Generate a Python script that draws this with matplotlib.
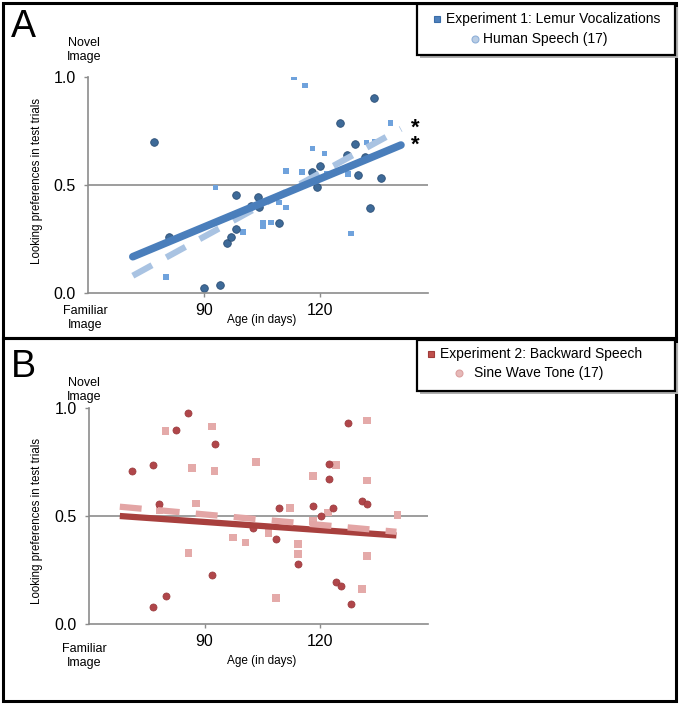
import matplotlib
matplotlib.use("Agg")
import matplotlib.pyplot as plt
from matplotlib.patches import Rectangle
from matplotlib.lines import Line2D

plt.rcParams['font.family'] = ['Liberation Sans', 'DejaVu Sans']

# ---- Panel A: Experiment 1 (lemur vocalizations vs human speech) ----
a_circle_age = [77.1, 80.9, 90.1, 94.1, 96.1, 96.9, 98.2, 98.2, 102.1, 104.1, 104.2, 109.4,
                118.0, 120.0, 119.2, 125.2, 127.1, 129.1, 130.0, 131.8, 133.1, 133.9, 135.9]
a_circle_pref = [0.70, 0.26, 0.025, 0.037, 0.23, 0.26, 0.295, 0.452, 0.403, 0.444, 0.40, 0.323,
                 0.559, 0.588, 0.489, 0.788, 0.637, 0.688, 0.546, 0.63, 0.395, 0.903, 0.531]

a_square_age = [80.2, 93.0, 100.1, 105.3, 105.3, 107.3, 109.4, 111.3, 111.3, 113.3, 115.4, 116.1,
                118.1, 121.2, 121.9, 127.3, 128.0, 132.1, 134.3, 138.3]
a_square_pref = [0.075, 0.489, 0.282, 0.323, 0.31, 0.327, 0.418, 0.395, 0.566, 0.997, 0.559, 0.96,
                 0.668, 0.645, 0.554, 0.55, 0.275, 0.696, 0.70, 0.788]

a_fit_age = [71.6, 141.0]
a_fit_solid = [0.168, 0.685]
a_fit_dashed = [0.08, 0.76]

# ---- Panel B: Experiment 2 (backward speech vs sine wave tone) ----
b_circle_age = [71.1, 76.6, 76.6, 78.2, 79.9, 82.7, 85.8, 91.9, 92.6, 102.5, 108.6, 109.3,
                114.2, 118.1, 120.1, 122.2, 122.2, 123.3, 124.1, 125.4, 127.3, 128.1, 130.9, 132.1]
b_circle_pref = [0.707, 0.736, 0.077, 0.557, 0.128, 0.90, 0.978, 0.228, 0.835, 0.443, 0.392, 0.537,
                 0.278, 0.548, 0.50, 0.742, 0.671, 0.537, 0.193, 0.177, 0.929, 0.093, 0.571, 0.557]

b_square_age = [78.3, 79.9, 85.8, 86.7, 87.8, 91.9, 92.6, 97.4, 100.6, 103.3, 106.6, 108.6,
                112.1, 114.2, 114.2, 118.1, 118.1, 122.1, 124.1, 130.9, 132.1, 132.1, 132.1, 140.1]
b_square_pref = [0.528, 0.893, 0.328, 0.721, 0.557, 0.914, 0.708, 0.40, 0.378, 0.75, 0.422, 0.12,
                 0.537, 0.371, 0.323, 0.686, 0.478, 0.517, 0.736, 0.163, 0.943, 0.665, 0.315, 0.506]

b_fit_age = [68.0, 139.8]
b_fit_solid = [0.50, 0.41]
b_fit_dashed = [0.543, 0.427]

x_ticks = [90, 120]
y_ticks = [0.0, 0.5, 1.0]
y_tick_labels = ["0.0", "0.5", "1.0"]

W, H = 680, 704


def fx(px):
    return px / W


def fy(py):
    return 1 - py / H


def setup_axes(ax):
    ax.set_xlim(60, 148)
    ax.set_ylim(0, 1)
    for side in ["top", "right"]:
        ax.spines[side].set_visible(False)
    for side in ["left", "bottom"]:
        ax.spines[side].set_color("#8c8c8c")
        ax.spines[side].set_linewidth(1.2)
    ax.set_xticks(x_ticks)
    ax.set_yticks(y_ticks)
    ax.set_yticklabels(y_tick_labels)
    ax.tick_params(axis="both", colors="#8c8c8c", labelcolor="black", labelsize=11.5,
                   length=3, width=1)
    ax.tick_params(axis="y", pad=6)
    ax.tick_params(axis="x", pad=4)
    ax.axhline(0.5, color="#8c8c8c", lw=1.2, zorder=1)
    ax.patch.set_alpha(0)


def legend_box(left, top, right, bottom, entries):
    # shadow first, then white box with black border
    fig.add_artist(Rectangle((fx(left + 3), fy(bottom + 3)), fx(right - left), (bottom - top) / H,
                             transform=fig.transFigure, facecolor="#b0b0b0", edgecolor="none",
                             zorder=5))
    fig.add_artist(Rectangle((fx(left), fy(bottom)), fx(right - left), (bottom - top) / H,
                             transform=fig.transFigure, facecolor="white", edgecolor="black",
                             lw=1.6, zorder=6))
    for (mx, tx, py, marker, fc, ec, ms, label) in entries:
        fig.add_artist(Line2D([fx(mx)], [fy(py)], marker=marker, markersize=ms,
                              markerfacecolor=fc, markeredgecolor=ec, markeredgewidth=0.8,
                              linestyle="none", transform=fig.transFigure, zorder=7))
        fig.text(fx(tx), fy(py), label, fontsize=10, va="center", ha="left", zorder=7)


def panel_labels(top):
    # top = pixel offset of the panel
    fig.text(fx(11), fy(top + 37), "A" if top == 0 else "B", fontsize=27, va="baseline")
    fig.text(fx(84), fy(top + 50), "Novel\nImage", fontsize=9, ha="center", va="center",
             linespacing=1.15)
    fig.text(fx(37), fy(top + 181), "Looking preferences in test trials", fontsize=8.3,
             rotation=90, ha="center", va="center")


fig = plt.figure(figsize=(W / 100, H / 100), dpi=100)

# panel frames
fig.add_artist(Rectangle((fx(3), fy(338)), fx(673), 335 / H, transform=fig.transFigure,
                         facecolor="none", edgecolor="black", lw=2.2))
fig.add_artist(Rectangle((fx(3), fy(701)), fx(673), 363 / H, transform=fig.transFigure,
                         facecolor="none", edgecolor="black", lw=2.2))

# ---- Panel A ----
axA = fig.add_axes([fx(88), fy(293), fx(340), 216 / H])
setup_axes(axA)
axA.plot(a_fit_age, a_fit_dashed, color="#a9c3e2", lw=4.5, dashes=(3.5, 2.6),
         solid_capstyle="butt", zorder=3)
axA.plot(a_fit_age, a_fit_solid, color="#4a7ebb", lw=5.5, solid_capstyle="round", zorder=4)
axA.scatter(a_square_age, a_square_pref, marker="s", s=16, color="#6fa2dc", edgecolors="none",
            zorder=2)
axA.scatter(a_circle_age, a_circle_pref, marker="o", s=30, color="#3e6a98",
            edgecolors="#2c4f76", linewidths=0.6, zorder=2)
# significance stars beside the two fit lines (one text so they don't collide)
axA.text(143.5, (a_fit_dashed[1] + a_fit_solid[1]) / 2, "*\n*", fontsize=16,
         fontweight="bold", ha="left", va="center", linespacing=0.75, clip_on=False)

panel_labels(0)
fig.text(fx(85), fy(318), "Familiar\nImage", fontsize=9, ha="center", va="center",
         linespacing=1.15)
fig.text(fx(262), fy(320), "Age (in days)", fontsize=8.5, ha="center", va="center")

legend_box(417, 4, 675, 55, [
    (437, 446, 19, "s", "#4f81bd", "#3a6da8", 5, "Experiment 1: Lemur Vocalizations"),
    (475, 483, 39, "o", "#b9cde5", "#8fb0d8", 5, "Human Speech (17)"),
])

# ---- Panel B ----
axB = fig.add_axes([fx(89), fy(624), fx(339), 216 / H])
setup_axes(axB)
axB.plot(b_fit_age, b_fit_solid, color="#a8403e", lw=4.5, solid_capstyle="butt", zorder=3)
axB.plot(b_fit_age, b_fit_dashed, color="#e3a5a5", lw=4.5, dashes=(3.5, 2.6),
         solid_capstyle="butt", zorder=4)
axB.scatter(b_square_age, b_square_pref, marker="s", s=30, color="#e4aaa9", edgecolors="none",
            zorder=2)
axB.scatter(b_circle_age, b_circle_pref, marker="o", s=26, color="#b0464a",
            edgecolors="#983a3c", linewidths=0.5, zorder=2)

panel_labels(340)
fig.text(fx(84), fy(656), "Familiar\nImage", fontsize=9, ha="center", va="center",
         linespacing=1.15)
fig.text(fx(262), fy(661), "Age (in days)", fontsize=8.5, ha="center", va="center")

legend_box(417, 340, 675, 391, [
    (431, 440, 354, "s", "#c0504d", "#a03c3a", 5, "Experiment 2: Backward Speech"),
    (459, 474, 373, "o", "#e6b9b8", "#dca0a0", 5, "Sine Wave Tone (17)"),
])

fig.savefig("out.png", dpi=100)
